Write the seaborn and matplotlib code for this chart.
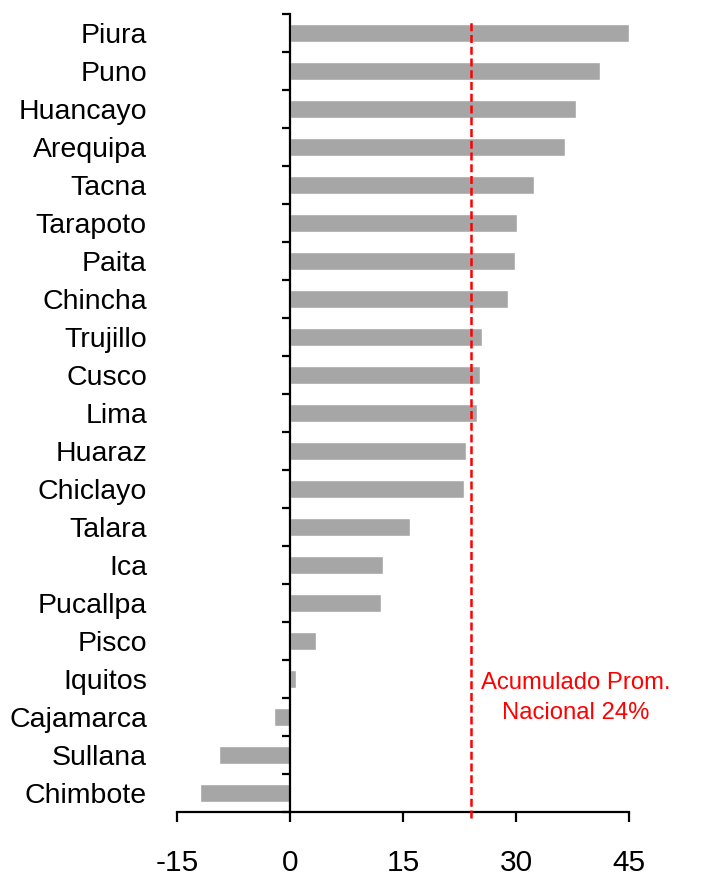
import numpy as np
import pandas as pd
import seaborn as sns
import matplotlib.pyplot as plt

# cities and accumulated variation (%)
cities = ['Piura', 'Puno', 'Huancayo', 'Arequipa', 'Tacna', 'Tarapoto', 'Paita',
          'Chincha', 'Trujillo', 'Cusco', 'Lima', 'Huaraz', 'Chiclayo', 'Talara',
          'Ica', 'Pucallpa', 'Pisco', 'Iquitos', 'Cajamarca', 'Sullana', 'Chimbote']
values = [45.0, 41.2, 38.0, 36.5, 32.4, 30.1, 29.9,
          28.9, 25.5, 25.2, 24.8, 23.4, 23.1, 15.9,
          12.3, 12.1, 3.5, 0.8, -2.1, -9.4, -11.9]
national_avg = 24
xticks = [-15, 0, 15, 30, 45]
note = 'Acumulado Prom.\nNacional 24%'

df = pd.DataFrame({'Ciudad': cities, 'Valor': values})

sns.set_style('white')
plt.rcParams['font.family'] = ['Liberation Sans', 'DejaVu Sans']
plt.rcParams['text.color'] = 'black'
plt.rcParams['xtick.color'] = 'black'
plt.rcParams['ytick.color'] = 'black'

fig = plt.figure(figsize=(7.27, 8.77), dpi=100)
ax = fig.add_axes([0.2435, 0.0741, 0.6217, 0.9099])

sns.barplot(data=df, x='Valor', y='Ciudad', orient='h', color='#A6A6A6',
            saturation=1, width=0.46, ax=ax)

ax.set_xlim(xticks[0], xticks[-1])
ax.set_ylim(len(cities) - 0.5, -0.5)
ax.set_xticks(xticks)
ax.set_xticklabels([str(t) for t in xticks])
ax.set_xlabel('')
ax.set_ylabel('')

# vertical axis sits at zero
ax.spines['left'].set_position(('data', 0))
ax.spines['right'].set_visible(False)
ax.spines['top'].set_visible(False)
for s in ['left', 'bottom']:
    ax.spines[s].set_linewidth(1.6)
    ax.spines[s].set_color('black')

ax.set_yticks(np.arange(-0.5, len(cities), 1.0), minor=True)
ax.tick_params(axis='y', which='major', left=True, length=0, pad=103,
               labelsize=20.5, labelcolor='black')
ax.tick_params(axis='y', which='minor', left=True, length=6, width=1.6,
               direction='out', color='black')
ax.tick_params(axis='x', which='major', bottom=True, length=7.5, width=1.6,
               direction='out', color='black', labelsize=21.5, pad=19,
               labelcolor='black')

ax.axvline(national_avg, ymin=-0.008, ymax=0.99, color='red', lw=1.8,
           dashes=(3.2, 1.5), clip_on=False, zorder=5)

ax.text(37.9, 17.5, note, color='red', fontsize=17.2, ha='center', va='center',
        linespacing=1.45)

fig.savefig('out.png', dpi=100)
